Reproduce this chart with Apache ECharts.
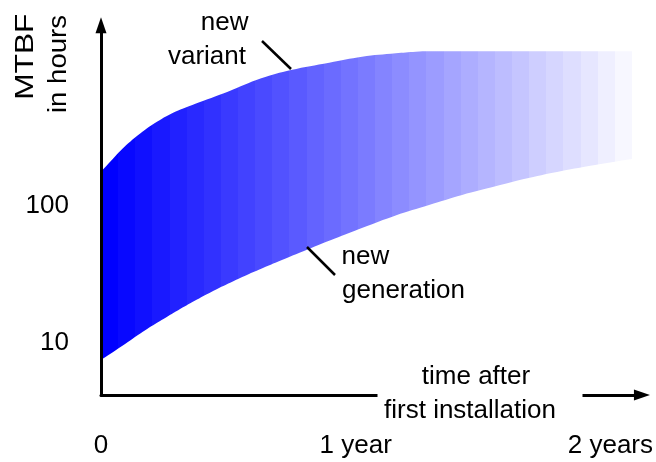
<!DOCTYPE html>
<html><head><meta charset="utf-8">
<script src="https://cdn.jsdelivr.net/npm/echarts@6/dist/echarts.min.js"></script>
<style>html,body{margin:0;padding:0;background:#fff}#c{width:656px;height:462px}</style>
</head><body><div id="c"></div>
<script>
// ---- data ----
const variantYears  = [0,0.055,0.107,0.172,0.238,0.303,0.368,0.498,0.629,0.746,0.896,1.025,1.157,1.236,1.288,1.45,1.6,1.75,1.9,2.085];
const variantValues = [177,229,286,358,430,495,553,680,851,978,1106,1223,1295,1330,1339,1339,1339,1339,1339,1339];
const generationYears  = [0,0.055,0.107,0.172,0.238,0.303,0.368,0.433,0.498,0.564,0.629,0.694,0.811,0.916,1.027,1.157,1.288,1.418,1.549,1.679,1.809,1.940,2.085];
const generationValues = [7.56,8.83,10.27,12.4,14.78,17.42,20.4,23.64,27.13,30.92,34.88,39.24,48.22,57.69,69.38,85.42,101.7,120.3,139.1,159.7,179.8,198.9,219.6];
const xTickValues = [0,1,2];
const xTickLabels = ['0','1 year','2 years'];
const yTickValues = [10,100];
const yTickLabels = ['10','100'];

const FONT = '"Liberation Sans", Arial, Helvetica, sans-serif';
const upperData = variantYears.map((x,i)=>[x,variantValues[i]]);
const lowerData = generationYears.map((x,i)=>[x,generationValues[i]]);

const stripCount = 31;
const stops = [];
for (let i=0;i<stripCount;i++){
  const c = Math.round(255*i/stripCount);
  const col = 'rgb('+c+','+c+',255)';
  stops.push({offset:i/stripCount,color:col},{offset:(i+1)/stripCount,color:col});
}

function txt(text, x, y, align, rot, sx){
  return {type:'text', x:x, y:y, rotation:rot||0, scaleX:sx||1, z:100,
    style:{text:text, font:'26px '+FONT, fill:'#000', align:align, verticalAlign:'middle', textAlign:align, textVerticalAlign:'middle'}};
}

const chart = echarts.init(document.getElementById('c'), null, {renderer:'canvas'});
chart.setOption({
  animation:false,
  backgroundColor:'#fff',
  grid:{left:101, right:12.3, top:25.3, bottom:67, containLabel:false},
  xAxis:{type:'value', min:0, max:2.124, interval:1, z:10,
    axisLine:{show:true, symbol:['none','triangle'], symbolSize:[11,16], lineStyle:{color:'#000', width:3}},
    axisTick:{show:false}, splitLine:{show:false},
    axisLabel:{margin:38, fontSize:26, fontFamily:FONT, color:'#000', showMaxLabel:false,
      formatter:function(v){const k=xTickValues.findIndex(t=>Math.abs(t-v)<1e-6); return k>=0?xTickLabels[k]:'';}}},
  yAxis:{type:'log', min:4.204, max:2070, z:10,
    axisLine:{show:true, symbol:['none','triangle'], symbolSize:[11,16], lineStyle:{color:'#000', width:3}},
    axisTick:{show:false}, splitLine:{show:false}, minorTick:{show:false},
    axisLabel:{margin:32, fontSize:26, fontFamily:FONT, color:'#000', showMinLabel:false, showMaxLabel:false,
      formatter:function(v){const k=yTickValues.findIndex(t=>Math.abs(t-v)/t<1e-6); return k>=0?yTickLabels[k]:'';}}},
  series:[
    {name:'new variant', type:'line', data:upperData, symbol:'none', smooth:0.4,
      lineStyle:{opacity:0, width:0}, z:2,
      areaStyle:{opacity:1, origin:'start', color:'#00f'}},
    {name:'new generation', type:'line', data:lowerData, symbol:'none', smooth:0.4,
      lineStyle:{opacity:0, width:0}, z:3,
      areaStyle:{opacity:1, origin:'start', color:'#fff'}}
  ],
  graphic:[
    {type:'rect', z:90, shape:{x:377.5, y:391, width:205, height:8}, style:{fill:'#fff'}},
    txt('time after', 476, 377, 'center'),
    txt('first installation', 470, 411, 'center'),
    txt('new', 248.5, 23, 'right'),
    txt('variant', 246, 56.5, 'right'),
    txt('new', 341.5, 257, 'left'),
    txt('generation', 342, 291, 'left'),
    txt('MTBF', 25.7, 56.7, 'center', Math.PI/2, 1.22),
    txt('in hours', 59, 64, 'center', Math.PI/2, 1.06),
    {type:'line', z:100, shape:{x1:262, y1:41, x2:291, y2:69}, style:{stroke:'#000', lineWidth:2.5}},
    {type:'line', z:100, shape:{x1:307, y1:247, x2:335, y2:275}, style:{stroke:'#000', lineWidth:2.5}}
  ]
});
// horizontal strip gradient placed through the x scale
const px0 = chart.convertToPixel({gridIndex:0}, [variantYears[0], 100])[0];
const px1 = chart.convertToPixel({gridIndex:0}, [variantYears[variantYears.length-1], 100])[0];
chart.setOption({series:[{areaStyle:{color:new echarts.graphic.LinearGradient(px0,0,px1,0,stops,true)}},{}]});
</script></body></html>
